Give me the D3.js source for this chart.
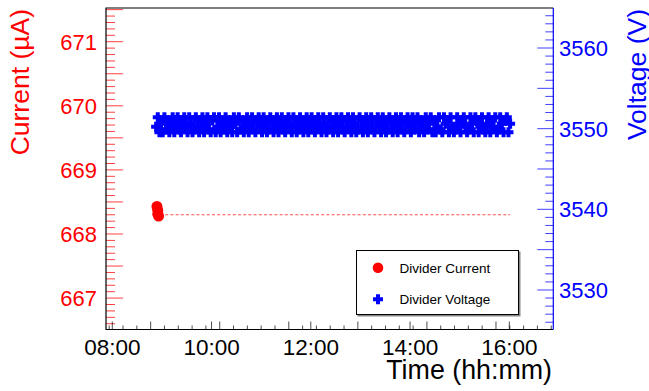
<!DOCTYPE html>
<html><head><meta charset="utf-8">
<script src="https://cdn.jsdelivr.net/npm/d3@7"></script>
<style>body{margin:0;background:#fff}svg{display:block;font-family:"Liberation Sans",Arial,Helvetica,sans-serif}</style>
</head><body><svg id="c" width="649" height="391"></svg>
<script>
// ---------- data ----------
const xTickLabels = ["08:00","10:00","12:00","14:00","16:00"];
const auxMajorTicks = ["08:46:24","10:09:54","11:33:24","12:56:54","14:20:24","15:43:54"];
const currentTickLabels = [667,668,669,670,671];
const voltageTickLabels = [3530,3540,3550,3560];

const currentTimes = ["08:54","08:55","08:55","08:56"];
const currentValues = [668.43,668.37,668.31,668.28];
const currentLineTimes = ["09:04","16:01"];
const currentLineValues = [668.30,668.30];

const voltageTimes = [
"08:53","08:55","08:57","08:59",
"09:01","09:03","09:05","09:07","09:09","09:11","09:13","09:15","09:17","09:19","09:21","09:23","09:25","09:27","09:29","09:31","09:33","09:35","09:37","09:39","09:41","09:43","09:45","09:47","09:49","09:51","09:53","09:55","09:57","09:59",
"10:01","10:03","10:05","10:07","10:09","10:11","10:13","10:15","10:17","10:19","10:21","10:23","10:25","10:27","10:29","10:31","10:33","10:35","10:37","10:39","10:41","10:43","10:45","10:47","10:49","10:51","10:53","10:55","10:57","10:59",
"11:01","11:03","11:05","11:07","11:09","11:11","11:13","11:15","11:17","11:19","11:21","11:23","11:25","11:27","11:29","11:31","11:33","11:35","11:37","11:39","11:41","11:43","11:45","11:47","11:49","11:51","11:53","11:55","11:57","11:59",
"12:01","12:03","12:05","12:07","12:09","12:11","12:13","12:15","12:17","12:19","12:21","12:23","12:25","12:27","12:29","12:31","12:33","12:35","12:37","12:39","12:41","12:43","12:45","12:47","12:49","12:51","12:53","12:55","12:57","12:59",
"13:01","13:03","13:05","13:07","13:09","13:11","13:13","13:15","13:17","13:19","13:21","13:23","13:25","13:27","13:29","13:31","13:33","13:35","13:37","13:39","13:41","13:43","13:45","13:47","13:49","13:51","13:53","13:55","13:57","13:59",
"14:01","14:03","14:05","14:07","14:09","14:11","14:13","14:15","14:17","14:19","14:21","14:23","14:25","14:27","14:29","14:31","14:33","14:35","14:37","14:39","14:41","14:43","14:45","14:47","14:49","14:51","14:53","14:55","14:57","14:59",
"15:01","15:03","15:05","15:07","15:09","15:11","15:13","15:15","15:17","15:19","15:21","15:23","15:25","15:27","15:29","15:31","15:33","15:35","15:37","15:39","15:41","15:43","15:45","15:47","15:49","15:51","15:53","15:55","15:57","15:59",
"16:01"];
const voltageValues = [
3550.25,3551.4,3549.55,3550.6,
3549.55,3551.4,3549.9,3551.0,3549.55,3550.25,3551.4,3549.55,3550.6,3551.4,3549.9,3549.55,3551.0,3551.4,3550.25,3549.55,3551.4,3550.6,3549.55,3549.9,3551.4,3551.0,3549.55,3550.25,3551.4,3549.55,3550.6,3551.4,3549.9,3549.55,
3551.0,3551.4,3549.55,3550.25,3551.4,3549.55,3550.6,3549.9,3551.4,3549.55,3551.0,3550.25,3549.55,3551.4,3550.6,3549.55,3551.4,3549.9,3551.0,3549.55,3550.25,3551.4,3549.55,3550.6,3551.4,3549.9,3549.55,3551.0,3551.4,3550.25,
3549.55,3551.4,3550.6,3549.55,3549.9,3551.4,3551.0,3549.55,3550.25,3551.4,3549.55,3550.6,3551.4,3549.9,3549.55,3551.0,3551.4,3550.25,3549.55,3551.4,3550.6,3549.55,3549.9,3551.4,3551.0,3549.55,3550.25,3551.4,3549.55,3550.6,
3551.4,3549.9,3549.55,3551.0,3551.4,3550.25,3549.55,3551.4,3550.6,3549.55,3549.9,3551.4,3551.0,3549.55,3550.25,3551.4,3549.55,3550.6,3551.4,3549.9,3549.55,3551.0,3551.4,3550.25,3549.55,3551.4,3550.6,3549.55,3549.9,3551.4,
3551.0,3549.55,3550.25,3551.4,3549.55,3550.6,3551.4,3549.9,3549.55,3551.0,3551.4,3550.25,3549.55,3551.4,3550.6,3549.55,3549.9,3551.4,3551.0,3549.55,3550.25,3551.4,3549.55,3550.6,3551.4,3549.9,3549.55,3551.0,3551.4,3550.25,
3549.55,3551.4,3549.9,3550.6,3551.4,3549.55,3551.0,3550.25,3549.55,3551.4,3549.9,3550.6,3551.4,3549.55,3551.0,3549.55,3550.25,3551.4,3549.9,3549.55,3551.4,3550.6,3551.0,3549.55,3551.4,3550.25,3549.55,3549.9,3551.4,3550.6,
3549.55,3551.0,3551.4,3550.25,3549.55,3549.9,3551.4,3550.6,3549.55,3551.4,3551.0,3549.55,3550.25,3551.4,3549.9,3549.55,3550.6,3551.4,3549.55,3551.0,3550.25,3551.4,3549.55,3549.9,3551.4,3550.6,3549.55,3551.0,3551.4,3549.55,
3550.6];

// ---------- layout ----------
const W = 649, H = 391;
const L = 106, R = 553.3, T = 8, B = 329.5;
const pHM = d3.timeParse("%H:%M"), pHMS = d3.timeParse("%H:%M:%S");
const pt = s => s.length > 5 ? pHMS(s) : pHM(s);

const x = d3.scaleTime().domain([pt("07:52:24"), pt("16:53:12")]).range([L, R]);
const yL = d3.scaleLinear().domain([666.51, 671.526]).range([B, T]);
const yR = d3.scaleLinear().domain([3525.1, 3564.96]).range([B, T]);

const svg = d3.select("#c");
svg.append("rect").attr("width", W).attr("height", H).attr("fill", "#fff");

// thick plus marker (ROOT full cross)
function plusPath(h, t) {
  return `M${-t},${-h}H${t}V${-t}H${h}V${t}H${t}V${h}H${-t}V${t}H${-h}V${-t}H${-t}Z`;
}

// ---------- data marks ----------
const cur = currentTimes.map((t, i) => ({t: pt(t), v: currentValues[i]}));
const curLine = currentLineTimes.map((t, i) => ({t: pt(t), v: currentLineValues[i]}));
const volt = voltageTimes.map((t, i) => ({t: pt(t), v: voltageValues[i]})).filter(d => d.v !== undefined);

svg.append("path").datum(curLine)
  .attr("d", d3.line().x(d => x(d.t)).y(d => yL(d.v)))
  .attr("fill", "none").attr("stroke", "#ff0000").attr("stroke-opacity", 0.7)
  .attr("stroke-width", 1).attr("stroke-dasharray", "3,2.2");

const circ = d3.symbol(d3.symbolCircle, Math.PI * 5.5 * 5.5);
svg.append("g").selectAll("path").data(cur).join("path")
  .attr("d", circ).attr("transform", d => `translate(${x(d.t)},${yL(d.v)})`)
  .attr("fill", "#ff0000");

const cross = plusPath(5, 2);
svg.append("g").selectAll("path").data(volt).join("path")
  .attr("d", cross).attr("transform", d => `translate(${x(d.t)},${yR(d.v)})`)
  .attr("fill", "#0000ff");

// ---------- left axis (current) ----------
const gl = svg.append("g");
const lt = d3.range(6666, 6716).map(k => k / 10);
gl.selectAll("line").data(lt).join("line")
  .attr("x1", L).attr("x2", d => L + (Math.round(d * 10) % 5 === 0 ? 17 : 9))
  .attr("y1", d => yL(d)).attr("y2", d => yL(d))
  .attr("stroke", "#ff0000").attr("stroke-opacity", 0.75);
gl.selectAll("text").data(currentTickLabels).join("text")
  .attr("x", 97).attr("y", d => yL(d) + 8).attr("text-anchor", "end")
  .attr("font-size", 22).attr("fill", "#ff0000").text(d => d);
svg.append("text").attr("transform", `translate(28.5,9) rotate(-90)`)
  .attr("text-anchor", "end").attr("font-size", 26.5).attr("fill", "#ff0000").text("Current (µA)");

// ---------- right axis (voltage) ----------
const gr = svg.append("g");
const rt = d3.range(3526, 3565);
gr.selectAll("line").data(rt).join("line")
  .attr("x1", R).attr("x2", d => R - (d % 5 === 0 ? 16 : 8))
  .attr("y1", d => yR(d)).attr("y2", d => yR(d))
  .attr("stroke", "#0000ff").attr("stroke-opacity", 0.75);
gr.selectAll("text").data(voltageTickLabels).join("text")
  .attr("x", 559).attr("y", d => yR(d) + 8)
  .attr("font-size", 22).attr("fill", "#0000ff").text(d => d);
svg.append("text").attr("transform", `translate(645.5,9) rotate(-90)`)
  .attr("text-anchor", "end").attr("font-size", 26.5).attr("fill", "#0000ff").text("Voltage (V)");

// ---------- bottom axis (time) ----------
const gb = svg.append("g");
const auxMaj = auxMajorTicks.map(pt);
const stepMs = (auxMaj[1] - auxMaj[0]) / 5;
const auxMin = d3.range(-3, 36).map(k => new Date(+auxMaj[0] + k * stepMs))
  .filter(d => x(d) > L && x(d) < R);
gb.selectAll("line.mn").data(auxMin).join("line").attr("class", "mn")
  .attr("x1", d => x(d)).attr("x2", d => x(d))
  .attr("y1", B).attr("y2", (d, i) => B - ((i + 2) % 5 === 0 ? 8 : 4))
  .attr("stroke", "#000").attr("stroke-opacity", 0.7);
gb.selectAll("line.mj").data(xTickLabels.map(pt)).join("line").attr("class", "mj")
  .attr("x1", d => x(d)).attr("x2", d => x(d)).attr("y1", B).attr("y2", B - 8)
  .attr("stroke", "#000").attr("stroke-opacity", 0.7);
gb.selectAll("text").data(xTickLabels).join("text")
  .attr("x", d => x(pt(d))).attr("y", 355).attr("text-anchor", "middle")
  .attr("font-size", 22.5).attr("fill", "#000").text(d => d);
svg.append("text").attr("x", 552).attr("y", 379).attr("text-anchor", "end")
  .attr("font-size", 26.8).attr("fill", "#000").text("Time (hh:mm)");

// ---------- frame ----------
svg.append("path").attr("d", `M${R},${T}H${L}V${B}H${R}`)
  .attr("fill", "none").attr("stroke", "#000").attr("stroke-width", 1.2);
svg.append("line").attr("x1", R).attr("x2", R).attr("y1", T).attr("y2", B)
  .attr("stroke", "#0000ff").attr("stroke-width", 1.2);

// ---------- legend ----------
const lg = svg.append("g");
lg.append("rect").attr("x", 357.5).attr("y", 251.5).attr("width", 163).attr("height", 65).attr("fill", "#888");
lg.append("rect").attr("x", 356.5).attr("y", 250.5).attr("width", 162).attr("height", 64)
  .attr("fill", "#fff").attr("stroke", "#000").attr("stroke-width", 1);
lg.append("path").attr("d", d3.symbol(d3.symbolCircle, Math.PI * 5.3 * 5.3))
  .attr("transform", "translate(378,267.7)").attr("fill", "#ff0000");
lg.append("path").attr("d", cross).attr("transform", "translate(378,299.3)").attr("fill", "#0000ff");
lg.append("text").attr("x", 399.5).attr("y", 272.5).attr("font-size", 13.5).text("Divider Current");
lg.append("text").attr("x", 399.5).attr("y", 303.5).attr("font-size", 13.5).text("Divider Voltage");
</script></body></html>
